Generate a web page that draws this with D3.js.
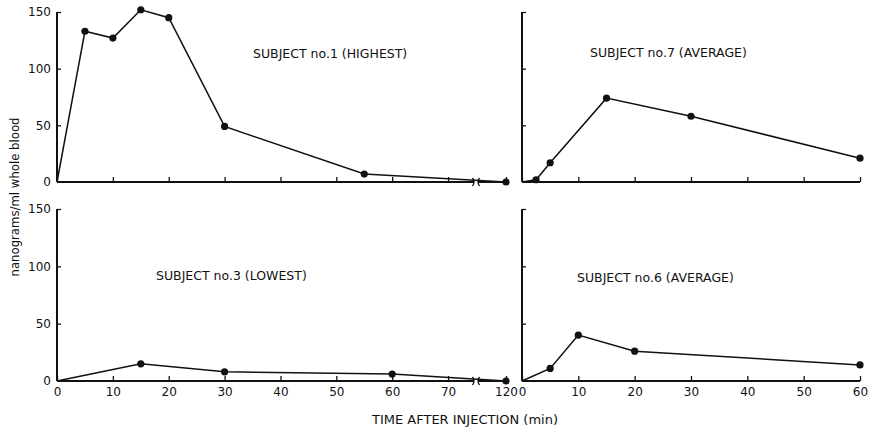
<!DOCTYPE html>
<html>
<head>
<meta charset="utf-8">
<script src="https://cdn.jsdelivr.net/npm/d3@7"></script>
<style>
  body { margin: 0; background: #fff; }
  text { font-family: "DejaVu Sans", sans-serif; fill: #111; }
</style>
</head>
<body>
<script>
  var w = 871;
  var h = 429;

  // subject 1 (highest) and subject 3 (lowest), 0-120 min with a break after 75
  var times1 = [0, 5, 10, 15, 20, 30, 55, 120];
  var conc1  = [0, 133, 127, 152, 145, 49, 7, 0];
  var times3 = [0, 15, 30, 60, 120];
  var conc3  = [0, 15, 8, 6, 0];

  // subject 7 and subject 6 (average), 0-60 min
  var times7 = [0, 2.5, 5, 15, 30, 60];
  var conc7  = [0, 2, 17, 74, 58, 21];
  var times6 = [0, 5, 10, 20, 60];
  var conc6  = [0, 11, 40, 26, 14];

  var yTicks = [0, 50, 100, 150];
  var xTicksLeft = [0, 10, 20, 30, 40, 50, 60, 70, 120];
  var xTicksRight = [0, 10, 20, 30, 40, 50, 60];

  var titles = ["SUBJECT no.1 (HIGHEST)", "SUBJECT no.7 (AVERAGE)",
                "SUBJECT no.3 (LOWEST)", "SUBJECT no.6 (AVERAGE)"];

  var svg = d3.select("body")
              .append("svg")
              .attr("width", w)
              .attr("height", h);

  var xLeft = d3.scaleLinear().domain([0, 75, 120]).range([57, 476, 506]);
  var xRight = d3.scaleLinear().domain([0, 60]).range([522, 860]);
  var yTop = d3.scaleLinear().domain([0, 150]).range([182, 12]);
  var yBottom = d3.scaleLinear().domain([0, 150]).range([381, 209]);

  var panels = [
    {t: times1, c: conc1, x: xLeft,  y: yTop,    ticks: xTicksLeft,  labels: false, ylab: true,  title: titles[0], tx: 253, ty: 58, brk: true},
    {t: times7, c: conc7, x: xRight, y: yTop,    ticks: xTicksRight, labels: false, ylab: false, title: titles[1], tx: 590, ty: 57, brk: false},
    {t: times3, c: conc3, x: xLeft,  y: yBottom, ticks: xTicksLeft,  labels: true,  ylab: true,  title: titles[2], tx: 156, ty: 280, brk: true},
    {t: times6, c: conc6, x: xRight, y: yBottom, ticks: xTicksRight, labels: true,  ylab: false, title: titles[3], tx: 577, ty: 282, brk: false}
  ];

  panels.forEach(function(p) {
    var g = svg.append("g");
    var y0 = p.y(0);

    // x axis
    var xa = d3.axisBottom(p.x)
               .tickValues(p.ticks)
               .tickSizeInner(-5)
               .tickSizeOuter(0)
               .tickPadding(6)
               .tickFormat(p.labels ? d3.format("d") : "");
    var gx = g.append("g").attr("transform", "translate(0," + y0 + ")").call(xa);
    gx.select(".domain").remove();
    gx.selectAll(".tick line").attr("stroke", "#111").attr("stroke-width", 1.3);
    gx.selectAll(".tick text").attr("font-size", "12px").attr("fill", "#111");

    // y axis
    var ya = d3.axisLeft(p.y)
               .tickValues(yTicks)
               .tickSizeInner(-4)
               .tickSizeOuter(0)
               .tickPadding(6)
               .tickFormat(p.ylab ? d3.format("d") : "");
    var gy = g.append("g").attr("transform", "translate(" + p.x(0) + ",0)").call(ya);
    gy.select(".domain").remove();
    gy.selectAll(".tick line").attr("stroke", "#111").attr("stroke-width", 1.3);
    gy.selectAll(".tick text").attr("font-size", "12px").attr("fill", "#111");
    gy.selectAll(".tick").filter(function(d) { return d === 0; }).select("line").remove();

    // axis lines
    g.append("line")
     .attr("x1", p.x(0)).attr("x2", p.x(0))
     .attr("y1", y0).attr("y2", p.y(150))
     .attr("stroke", "#111").attr("stroke-width", 2);

    if (p.brk) {
      g.append("line")
       .attr("x1", p.x(0)).attr("x2", 474)
       .attr("y1", y0).attr("y2", y0)
       .attr("stroke", "#111").attr("stroke-width", 2);
      g.append("line")
       .attr("x1", 478).attr("x2", p.x(120))
       .attr("y1", y0).attr("y2", y0)
       .attr("stroke", "#111").attr("stroke-width", 2);
      [474, 478].forEach(function(bx, i) {
        var k = i === 0 ? 1.5 : -1.5;
        g.append("path")
         .attr("d", "M" + (bx - k) + "," + (y0 - 4) + "Q" + (bx + k) + "," + y0 + " " + (bx - k) + "," + (y0 + 4))
         .attr("fill", "none").attr("stroke", "#111").attr("stroke-width", 1.3);
      });
    } else {
      g.append("line")
       .attr("x1", p.x(0)).attr("x2", p.x(60))
       .attr("y1", y0).attr("y2", y0)
       .attr("stroke", "#111").attr("stroke-width", 2);
    }

    var pts = p.t.map(function(d, i) { return [d, p.c[i]]; });

    var line = d3.line()
                 .x(function(d) { return p.x(d[0]); })
                 .y(function(d) { return p.y(d[1]); });

    g.append("path")
     .datum(pts)
     .attr("d", line)
     .attr("fill", "none")
     .attr("stroke", "#111")
     .attr("stroke-width", 1.5);

    g.selectAll("circle")
     .data(pts.filter(function(d) { return d[0] > 0; }))
     .enter()
     .append("circle")
     .attr("cx", function(d) { return p.x(d[0]); })
     .attr("cy", function(d) { return p.y(d[1]); })
     .attr("r", 3.6)
     .attr("fill", "#111");

    g.append("text")
     .text(p.title)
     .attr("x", p.tx)
     .attr("y", p.ty)
     .attr("font-size", "12.5px");
  });

  svg.append("text")
     .text("nanograms/ml whole blood")
     .attr("transform", "translate(19,197) rotate(-90)")
     .attr("text-anchor", "middle")
     .style("font-family", "'Liberation Sans Narrow', 'DejaVu Sans Condensed', sans-serif")
     .attr("font-size", "13px");

  svg.append("text")
     .text("TIME AFTER INJECTION (min)")
     .attr("x", 465)
     .attr("y", 424)
     .attr("text-anchor", "middle")
     .attr("font-size", "13px");
</script>
</body>
</html>
